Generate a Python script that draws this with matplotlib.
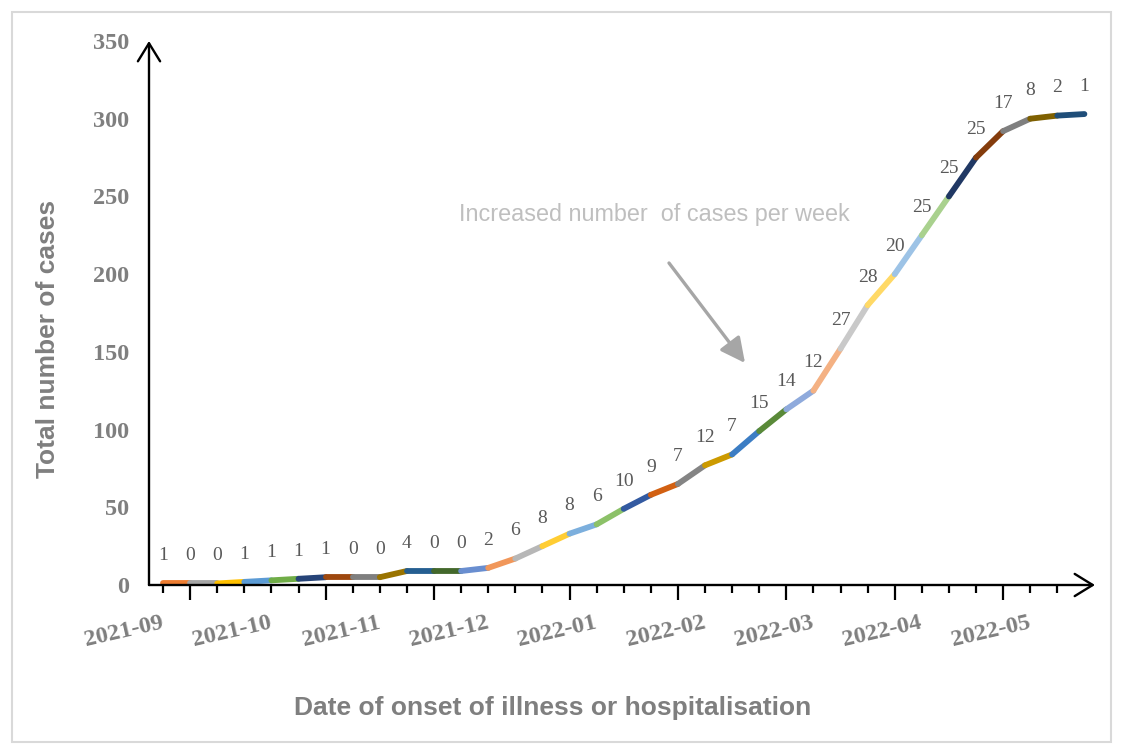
import numpy as np
import matplotlib
matplotlib.use("Agg")
import matplotlib.pyplot as plt
from matplotlib.patches import Rectangle, FancyArrowPatch

# ---------------- data ----------------
weekly_cases = [1, 0, 0, 1, 1, 1, 1, 0, 0, 4,
                0, 0, 2, 6, 8, 8, 6, 10, 9, 7,
                12, 7, 15, 14, 12, 27, 28, 20, 25, 25,
                25, 17, 8, 2, 1]
month_labels = ["2021-09", "2021-10", "2021-11", "2021-12", "2022-01",
                "2022-02", "2022-03", "2022-04", "2022-05"]
label_weeks = [0, 4, 8, 12, 16, 20, 24, 28, 32]
major_tick_weeks = [1, 6, 10, 15, 19, 23, 27, 31]
y_ticks = [0, 50, 100, 150, 200, 250, 300, 350]
segment_colors = ["#ED7D31", "#A5A5A5", "#FFC000", "#5B9BD5", "#70AD47",
                  "#264478", "#9E480E", "#7F7F7F", "#997300", "#255E91",
                  "#43682B", "#698ED0", "#F1975A", "#B7B7B7", "#FFCD33",
                  "#7CAFDD", "#8CC168", "#335AA1", "#D26012", "#848484",
                  "#CC9A00", "#3C7DC4", "#5A8A39", "#8FAADC", "#F4B183",
                  "#C9C9C9", "#FFD966", "#9DC3E6", "#A9D18E", "#203864",
                  "#843C0C", "#7F7F7F", "#7F6000", "#1F4E79"]

weeks = np.arange(len(weekly_cases))
cumulative = np.cumsum(weekly_cases)

# ---------------- figure ----------------
W, H = 1123, 754
fig = plt.figure(figsize=(W / 100, H / 100), dpi=100)
fig.patch.set_facecolor("white")

ax_left, ax_right, ax_top, ax_bottom = 149, 1095, 41, 585
ax = fig.add_axes([ax_left / W, 1 - ax_bottom / H,
                   (ax_right - ax_left) / W, (ax_bottom - ax_top) / H])

step = 27.1
x0 = (ax_left - 163) / step
ax.set_xlim(x0, x0 + (ax_right - ax_left) / step)
ax.set_ylim(0, 350)

for s in ax.spines.values():
    s.set_visible(False)

# colored segments
for i in range(len(weeks) - 1):
    ax.plot(weeks[i:i + 2], cumulative[i:i + 2], color=segment_colors[i],
            lw=4.2, solid_capstyle="round", zorder=3)

# data labels
for w, c, n in zip(weeks, cumulative, weekly_cases):
    ax.annotate(str(n), xy=(w, c), xytext=(0, 20), textcoords="offset points",
                ha="center", va="center", fontsize=14,
                family="Liberation Serif", color="#595959", zorder=4)

# axis lines with arrows
arrow_kw = dict(arrowstyle="->,head_length=0.65,head_width=0.4", lw=1.7,
                color="black", shrinkA=0, shrinkB=0, mutation_scale=20)
ax.annotate("", xy=(0, 1), xytext=(0, 0), xycoords="axes fraction",
            textcoords="axes fraction", arrowprops=arrow_kw, zorder=5)
ax.annotate("", xy=(1, 0), xytext=(0, 0), xycoords="axes fraction",
            textcoords="axes fraction", arrowprops=arrow_kw, zorder=5)

# y ticks
ax.set_yticks(y_ticks)
ax.set_yticklabels([str(v) for v in y_ticks], family="Liberation Serif",
                   fontweight="bold", fontsize=17.5, color="#7F7F7F")
ax.tick_params(axis="y", length=0, pad=14)

# x ticks
ax.set_xticks(major_tick_weeks)
ax.set_xticklabels([])
ax.set_xticks(weeks[:-1], minor=True)
ax.tick_params(axis="x", which="major", length=11, width=1.6, color="black",
               direction="out")
ax.tick_params(axis="x", which="minor", length=5.5, width=1.6, color="black",
               direction="out")

sec = ax.secondary_xaxis("bottom")
sec.set_xticks(label_weeks)
sec.set_xticklabels(month_labels, family="Liberation Serif", fontweight="bold",
                    fontsize=17.5, color="#7F7F7F")
sec.tick_params(axis="x", length=0, pad=27)
for s in sec.spines.values():
    s.set_visible(False)
for lab in sec.get_xticklabels():
    lab.set_rotation(13)
    lab.set_rotation_mode("anchor")
    lab.set_ha("right")
    lab.set_va("center")

# axis titles
fig.text(48 / W, 1 - 339 / H, "Total number of cases", rotation=90,
         ha="center", va="center", family="Liberation Sans",
         fontweight="bold", fontsize=19, color="#7F7F7F")
fig.text(553 / W, 1 - 708 / H, "Date of onset of illness or hospitalisation",
         ha="center", va="center", family="Liberation Sans",
         fontweight="bold", fontsize=19, color="#7F7F7F")

# annotation
fig.text(654 / W, 1 - 215 / H, "Increased number  of cases per week",
         ha="center", va="center", family="Liberation Sans",
         fontsize=16.8, color="#BFBFBF")
fig.add_artist(FancyArrowPatch(
    (669 / W, 1 - 263 / H), (745 / W, 1 - 363 / H),
    transform=fig.transFigure,
    arrowstyle="-|>,head_length=1.0,head_width=0.5", mutation_scale=15,
    color="#A6A6A6", lw=2.4, shrinkA=0, shrinkB=0))

# outer border
fig.add_artist(Rectangle((12 / W, 12 / H), (W - 24) / W, (H - 24) / H,
                         transform=fig.transFigure, fill=False,
                         edgecolor="#D9D9D9", lw=1.5))

fig.savefig("out.png", dpi=100, facecolor="white")
